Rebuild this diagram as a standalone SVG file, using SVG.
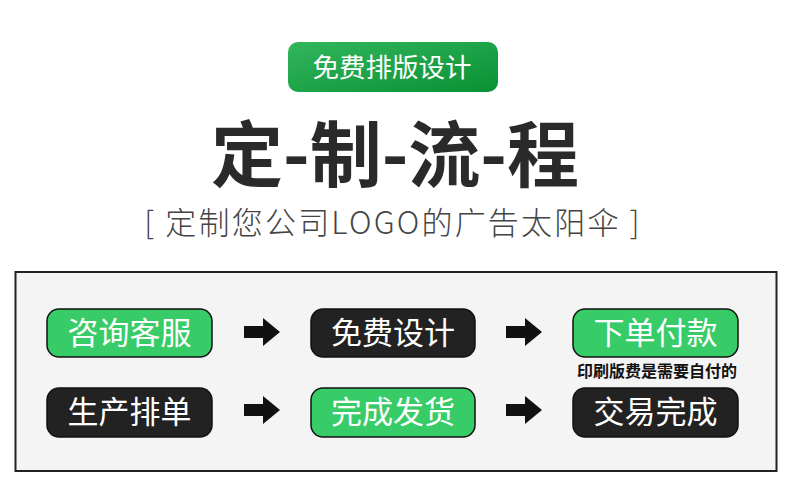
<svg xmlns="http://www.w3.org/2000/svg" width="790" height="497" viewBox="0 0 790 497">
<defs>
<linearGradient id="gb" x1="0" y1="0" x2="1" y2="1">
<stop offset="0" stop-color="#32b65c"/>
<stop offset="1" stop-color="#0a9134"/>
</linearGradient>
<style>
.cjk{font-family:"Noto Sans CJK SC","Noto Sans",sans-serif}
.box{stroke:#111;stroke-width:1.5}
.g{fill:#38cc68}
.d{fill:#222}
.bt{font-size:31px;fill:#fff;text-anchor:middle;font-weight:400}
.arr{fill:#111}
</style>
</defs>
<rect width="790" height="497" fill="#fff"/>
<g id="badge">
<rect x="288" y="42" width="210" height="50" rx="10" fill="url(#gb)"/>
<text x="392" y="77" class="cjk" font-size="26.5" fill="#fff" text-anchor="middle" font-weight="400">免费排版设计</text>
</g>
<g id="title">
<text x="395" y="181" class="cjk" font-size="72" font-weight="bold" fill="#2a2a2a" text-anchor="middle">定-制-流-程</text>
</g>
<g id="subtitle">
<text x="393" y="234" class="cjk" font-size="31" font-weight="300" fill="#444" text-anchor="middle" letter-spacing="2.2">[ 定制您公司LOGO的广告太阳伞 ]</text>
</g>
<rect id="frame" x="15.5" y="272" width="761" height="199" fill="#f4f4f4" stroke="#222" stroke-width="2"/>
<g id="n1"><rect class="box g" x="47" y="309" width="165" height="48" rx="12"/><text class="cjk bt" x="129.5" y="344">咨询客服</text></g>
<g id="n2"><rect class="box d" x="311" y="309" width="164" height="48" rx="12"/><text class="cjk bt" x="393" y="344">免费设计</text></g>
<g id="n3"><rect class="box g" x="573" y="309" width="165" height="48" rx="12"/><text class="cjk bt" x="655.5" y="344">下单付款</text>
<text class="cjk" x="657" y="377" font-size="16" font-weight="bold" fill="#111" text-anchor="middle">印刷版费是需要自付的</text></g>
<g id="n4"><rect class="box d" x="47" y="388" width="165" height="49" rx="12"/><text class="cjk bt" x="129.5" y="423">生产排单</text></g>
<g id="n5"><rect class="box g" x="311" y="388" width="164" height="49" rx="12"/><text class="cjk bt" x="393" y="423">完成发货</text></g>
<g id="n6"><rect class="box d" x="573" y="388" width="165" height="49" rx="12"/><text class="cjk bt" x="655.5" y="423">交易完成</text></g>
<g id="connectors">
<path class="arr" d="M244 326H263V318L280 332L263 346V338H244Z"/>
<path class="arr" d="M506 326H525V318L542 332L525 346V338H506Z"/>
<path class="arr" d="M244 404H263V396L280 410L263 424V416H244Z"/>
<path class="arr" d="M506 404H525V396L542 410L525 424V416H506Z"/>
</g>
</svg>
